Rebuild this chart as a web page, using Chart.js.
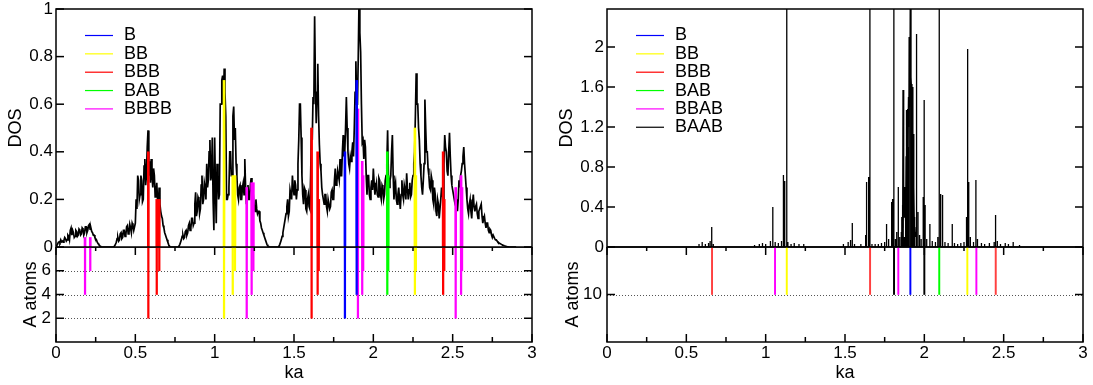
<!DOCTYPE html>
<html>
<head>
<meta charset="utf-8">
<script src="https://cdn.jsdelivr.net/npm/chart.js@4.4.0/dist/chart.umd.min.js"></script>
<style>
  html, body { margin: 0; padding: 0; background: #fff; overflow: hidden; width: 1093px; height: 385px; }
  canvas { position: absolute; }
</style>
</head>
<body>
<canvas id="dosL" width="545" height="260" style="left:0;top:0"></canvas>
<canvas id="dosR" width="545" height="260" style="left:551px;top:0"></canvas>
<canvas id="atomsL" width="545" height="138" style="left:0;top:247px"></canvas>
<canvas id="atomsR" width="545" height="138" style="left:551px;top:247px"></canvas>
<script>
// axis ticks
const kaTicks = [0, 0.5, 1, 1.5, 2, 2.5, 3];
const kaMinor = [0.25, 0.75, 1.25, 1.75, 2.25, 2.75];
const dosTicksL = [0, 0.2, 0.4, 0.6, 0.8, 1];
const dosTicksR = [0, 0.4, 0.8, 1.2, 1.6, 2];
const atomTicksL = [2, 4, 6];
const atomTicksR = [10];

// left panel: total DOS, sampled every 0.005 in ka from 0 (one row = 0.05)
const dosLeft = [
  0, 0.006, 0.012, 0.02, 0.022, 0.018, 0.03, 0.022, 0.025, 0.02,
  0.028, 0.04, 0.035, 0.025, 0.03, 0.05, 0.045, 0.03, 0.07, 0.08,
  0.05, 0.07, 0.06, 0.04, 0.045, 0.07, 0.065, 0.045, 0.05, 0.075,
  0.07, 0.05, 0.055, 0.08, 0.075, 0.05, 0.06, 0.085, 0.085, 0.06,
  0.07, 0.09, 0.095, 0.075, 0.08, 0.065, 0.06, 0.05, 0.05, 0.04,
  0.035, 0.03, 0.02, 0.015, 0.01, 0.006, 0.003, 0.001, 0, 0,
  0, 0, 0, 0, 0, 0, 0, 0, 0, 0,
  0, 0, 0, 0.002, 0.005, 0.012, 0.02, 0.035, 0.04, 0.025,
  0.03, 0.055, 0.06, 0.035, 0.04, 0.07, 0.07, 0.045, 0.05, 0.085,
  0.09, 0.055, 0.06, 0.095, 0.08, 0.06, 0.1, 0.09, 0.07, 0.085,
  0.1, 0.2, 0.16, 0.3, 0.28, 0.2, 0.22, 0.3, 0.28, 0.19,
  0.2, 0.34, 0.37, 0.26, 0.3, 0.42, 0.49, 0.3, 0.36, 0.27,
  0.37, 0.3, 0.25, 0.33, 0.3, 0.21, 0.22, 0.27, 0.2, 0.16,
  0.25, 0.18, 0.15, 0.13, 0.12, 0.09, 0.08, 0.06, 0.05, 0.04,
  0.03, 0.02, 0.01, 0.004, 0, 0, 0, 0, 0, 0,
  0, 0, 0, 0, 0, 0.004, 0.01, 0.02, 0.03, 0.045,
  0.05, 0.035, 0.04, 0.065, 0.07, 0.05, 0.06, 0.09, 0.1, 0.07,
  0.08, 0.12, 0.12, 0.09, 0.1, 0.18, 0.23, 0.13, 0.15, 0.21,
  0.2, 0.14, 0.16, 0.26, 0.3, 0.18, 0.2, 0.27, 0.25, 0.2,
  0.35, 0.25, 0.28, 0.4, 0.45, 0.28, 0.3, 0.46, 0.2, 0.07,
  0.46, 0.25, 0.1, 0.35, 0.3, 0.2, 0.22, 0.6, 0.6, 0.7,
  0.72, 0.6, 0.75, 0.65, 0.55, 0.2, 0.2, 0.22, 0.25, 0.4,
  0.4, 0.3, 0.3, 0.55, 0.59, 0.45, 0.5, 0.35, 0.3, 0.22,
  0.2, 0.25, 0.26, 0.2, 0.2, 0.25, 0.27, 0.22, 0.37, 0.25,
  0.18, 0.22, 0.26, 0.2, 0.2, 0.26, 0.29, 0.22, 0.25, 0.2,
  0.17, 0.15, 0.2, 0.16, 0.14, 0.15, 0.15, 0.11, 0.1, 0.08,
  0.07, 0.06, 0.05, 0.04, 0.03, 0.02, 0.01, 0.005, 0.002, 0,
  0, 0, 0, 0, 0, 0, 0, 0, 0, 0,
  0, 0.003, 0.01, 0.02, 0.03, 0.045, 0.06, 0.08, 0.1, 0.12,
  0.14, 0.17, 0.2, 0.13, 0.15, 0.24, 0.24, 0.2, 0.3, 0.25,
  0.22, 0.28, 0.26, 0.2, 0.24, 0.35, 0.45, 0.6, 0.6, 0.46,
  0.3, 0.22, 0.18, 0.25, 0.24, 0.16, 0.15, 0.2, 0.22, 0.17,
  0.16, 0.3, 0.5, 0.45, 0.63, 0.6, 0.97, 0.7, 0.52, 0.65,
  0.77, 0.55, 0.43, 0.35, 0.32, 0.25, 0.22, 0.2, 0.18, 0.22,
  0.22, 0.17, 0.15, 0.2, 0.2, 0.16, 0.17, 0.23, 0.24, 0.2,
  0.2, 0.28, 0.33, 0.26, 0.27, 0.32, 0.3, 0.28, 0.37, 0.3,
  0.3, 0.4, 0.47, 0.38, 0.4, 0.5, 0.63, 0.5, 0.4, 0.35,
  0.33, 0.38, 0.36, 0.4, 0.44, 0.38, 0.5, 0.65, 0.78, 0.6,
  0.6, 0.8, 1.05, 0.9, 0.82, 0.6, 0.44, 0.45, 0.37, 0.45,
  0.42, 0.3, 0.22, 0.3, 0.3, 0.22, 0.2, 0.25, 0.28, 0.24,
  0.33, 0.27, 0.22, 0.25, 0.27, 0.22, 0.21, 0.29, 0.28, 0.22,
  0.2, 0.26, 0.25, 0.2, 0.22, 0.28, 0.3, 0.35, 0.49, 0.3,
  0.25, 0.28, 0.3, 0.4, 0.47, 0.3, 0.2, 0.25, 0.27, 0.2,
  0.18, 0.22, 0.25, 0.2, 0.16, 0.22, 0.28, 0.22, 0.2, 0.26,
  0.24, 0.2, 0.31, 0.25, 0.2, 0.24, 0.27, 0.21, 0.22, 0.28,
  0.3, 0.35, 0.4, 0.55, 0.73, 0.6, 0.6, 0.5, 0.45, 0.35,
  0.3, 0.25, 0.22, 0.28, 0.35, 0.62, 0.5, 0.4, 0.4, 0.33,
  0.3, 0.25, 0.24, 0.3, 0.28, 0.2, 0.18, 0.25, 0.22, 0.15,
  0.13, 0.2, 0.18, 0.12, 0.12, 0.2, 0.25, 0.22, 0.2, 0.35,
  0.47, 0.42, 0.4, 0.32, 0.3, 0.4, 0.48, 0.38, 0.3, 0.26,
  0.24, 0.22, 0.2, 0.18, 0.17, 0.2, 0.15, 0.2, 0.28, 0.25,
  0.3, 0.32, 0.35, 0.38, 0.42, 0.35, 0.3, 0.25, 0.2, 0.16,
  0.14, 0.18, 0.2, 0.15, 0.12, 0.18, 0.22, 0.17, 0.15, 0.17,
  0.18, 0.14, 0.12, 0.15, 0.16, 0.17, 0.18, 0.13, 0.1, 0.12,
  0.13, 0.1, 0.08, 0.1, 0.1, 0.07, 0.06, 0.075, 0.07, 0.05,
  0.04, 0.05, 0.05, 0.035, 0.03, 0.03, 0.025, 0.02, 0.018, 0.016,
  0.014, 0.012, 0.01, 0.008, 0.007, 0.005, 0.004, 0.003, 0.002, 0.001,
  0.001, 0, 0, 0, 0, 0, 0, 0, 0, 0,
  0
];

// left panel: clusters, ka position, local DOS height, A atoms
const kaB_L = [1.821, 1.895];
const dosB_L = [0.4, 0.7];
const atomsB_L = [2, 4];
const kaBB_L = [1.059, 1.114, 1.128, 2.262, 2.268];
const dosBB_L = [0.7, 0.3, 0.3, 0.5, 0.3];
const atomsBB_L = [2, 4, 6, 4, 6];
const kaBBB_L = [0.582, 0.635, 0.651, 1.611, 1.649, 1.656, 2.44, 2.447];
const dosBBB_L = [0.4, 0.2, 0.2, 0.5, 0.4, 0.2, 0.4, 0.2];
const atomsBBB_L = [2, 4, 6, 2, 4, 6, 4, 6];
const kaBAB_L = [2.088, 2.094];
const dosBAB_L = [0.4, 0.3];
const atomsBAB_L = [4, 6];
const kaBBBB_L = [0.183, 0.216, 1.202, 1.233, 1.244, 1.903, 1.93, 1.936, 2.519, 2.553, 2.559];
const dosBBBB_L = [0.04, 0.04, 0.25, 0.27, 0.27, 0.58, 0.36, 0.3, 0.25, 0.3, 0.25];
const atomsBBBB_L = [4, 6, 2, 4, 6, 2, 4, 6, 2, 4, 6];

// right panel: total DOS spikes
const kaSpikesR = [0.58, 0.60, 0.62, 0.64, 0.65, 0.66, 0.67, 0.93, 0.96, 0.98, 1.00, 1.03, 1.045, 1.06, 1.08, 1.10,
  1.112, 1.12, 1.133, 1.14, 1.16, 1.18, 1.21, 1.24, 1.49, 1.52, 1.535, 1.546, 1.56, 1.60, 1.63, 1.636, 1.649, 1.657,
  1.67, 1.69, 1.71, 1.73, 1.75, 1.762, 1.775, 1.794, 1.80, 1.808, 1.818, 1.826, 1.836, 1.845, 1.855, 1.863, 1.867,
  1.875, 1.882, 1.888, 1.895, 1.90, 1.905, 1.914, 1.92, 1.926, 1.932, 1.94, 1.951, 1.96, 1.97, 1.98, 1.993, 1.999,
  2.005, 2.015, 2.035, 2.05, 2.07, 2.085, 2.094, 2.103, 2.115, 2.13, 2.15, 2.176, 2.19, 2.21, 2.23, 2.25, 2.266,
  2.273, 2.28, 2.29, 2.31, 2.325, 2.335, 2.36, 2.38, 2.41, 2.44, 2.449, 2.46, 2.48, 2.51, 2.53, 2.56, 2.60];
const dosSpikesR = [0.03, 0.05, 0.03, 0.04, 0.06, 0.2, 0.03, 0.02, 0.03, 0.04, 0.03, 0.06, 0.4, 0.05, 0.04, 0.06,
  0.72, 0.66, 3, 0.05, 0.03, 0.04, 0.03, 0.03, 0.03, 0.05, 0.07, 0.24, 0.03, 0.03, 0.12, 0.65, 0.7, 3,
  0.03, 0.03, 0.03, 0.04, 0.05, 0.23, 0.08, 0.45, 0.48, 3, 0.08, 0.15, 0.6, 0.1, 0.15, 0.42, 1.57,
  0.1, 0.25, 1.37, 1.38, 1.0, 2.1, 3, 1.63, 1.6, 1.13, 0.2, 2.13, 0.35, 0.12, 0.08, 0.5, 1.47,
  0.42, 0.08, 0.23, 0.06, 0.05, 0.1, 3, 0.53, 0.52, 0.05, 0.04, 0.23, 0.04, 0.03, 0.04, 0.05, 0.3,
  1.98, 0.65, 0.1, 0.05, 0.67, 0.08, 0.04, 0.03, 0.04, 0.05, 0.32, 0.06, 0.03, 0.04, 0.03, 0.05, 0.02];
// dense band around ka 1.9
const kaBandR = [1.855, 1.858, 1.861, 1.864, 1.867, 1.870, 1.873, 1.876, 1.879, 1.882, 1.885, 1.888, 1.891, 1.894,
  1.897, 1.900, 1.903, 1.906, 1.909, 1.912, 1.915, 1.918, 1.921, 1.924, 1.927, 1.930, 1.933, 1.936, 1.939, 1.942, 1.945];
const dosBandR = [0.1, 0.3, 0.2, 0.42, 1.57, 0.5, 0.3, 0.6, 0.4, 0.25, 0.9, 1.37, 1.1, 1.38,
  0.9, 1.5, 1.2, 2.1, 1.4, 3, 1.7, 1.63, 1.2, 1.6, 1.0, 1.13, 0.6, 0.3, 0.2, 0.15, 0.1];

// right panel: clusters, ka position (all at 10 A atoms)
const kaB_R = [1.912];
const kaBB_R = [1.133, 2.271];
const kaBBB_R = [0.662, 1.658, 2.45];
const kaBAB_R = [2.094];
const kaBBAB_R = [1.059, 1.836, 2.328];
const kaBAAB_R = [1.809, 2.0];
const atomsR = 10;

const legendL = [
  { label: "B", color: "#0000ff" },
  { label: "BB", color: "#ffff00" },
  { label: "BBB", color: "#ff0000" },
  { label: "BAB", color: "#00ff00" },
  { label: "BBBB", color: "#ff00ff" },
];
const legendR = [
  { label: "B", color: "#0000ff" },
  { label: "BB", color: "#ffff00" },
  { label: "BBB", color: "#ff0000" },
  { label: "BAB", color: "#00ff00" },
  { label: "BBAB", color: "#ff00ff" },
  { label: "BAAB", color: "#000000" },
];

const FONT = "'Liberation Sans', Arial, sans-serif";
const tickFont = { family: FONT, size: 17, lineHeight: 1 };
const titleFont = { family: FONT, size: 18 };

// inward ticks, frame, dotted guides and the legend
const axesFrame = {
  id: "axesFrame",
  beforeDatasetsDraw(chart, args, o) {
    if (!o.dots) return;
    const { ctx, chartArea: a } = chart;
    ctx.save();
    ctx.strokeStyle = "#555";
    ctx.lineWidth = 1;
    ctx.setLineDash([1, 2]);
    o.dots.forEach((v) => {
      const py = Math.round(chart.scales.y.getPixelForValue(v)) + 0.5;
      ctx.beginPath();
      ctx.moveTo(a.left, py);
      ctx.lineTo(a.right, py);
      ctx.stroke();
    });
    ctx.restore();
  },
  afterDatasetsDraw(chart, args, o) {
    const { ctx, chartArea: a, scales } = chart;
    const seg = (x1, y1, x2, y2) => {
      ctx.beginPath();
      ctx.moveTo(x1, y1);
      ctx.lineTo(x2, y2);
      ctx.stroke();
    };
    ctx.save();
    ctx.strokeStyle = "#000";
    ctx.lineWidth = 1.5;
    ctx.strokeRect(a.left, a.top, a.right - a.left, a.bottom - a.top);
    (o.yTicks || []).forEach((v) => {
      const py = scales.y.getPixelForValue(v);
      seg(a.left, py, a.left + 8, py);
      seg(a.right - 8, py, a.right, py);
    });
    if (o.xTicks) {
      kaTicks.forEach((v) => {
        const px = scales.x.getPixelForValue(v);
        seg(px, a.top, px, a.top + 8);
        seg(px, a.bottom - 8, px, a.bottom);
      });
      kaMinor.forEach((v) => {
        const px = scales.x.getPixelForValue(v);
        seg(px, a.top, px, a.top + 4);
        seg(px, a.bottom - 5, px, a.bottom);
      });
    }
    if (o.legend) {
      ctx.font = "18px " + FONT;
      ctx.textBaseline = "middle";
      ctx.fillStyle = "#000";
      ctx.lineWidth = 1.2;
      o.legend.forEach((item, i) => {
        const y = 35.5 + i * 18.35;
        ctx.strokeStyle = item.color;
        seg(85, y, 113, y);
        ctx.fillText(item.label, 124, y);
      });
    }
    ctx.restore();
  },
};

function yScale(max, ticks, title, titlePad, labelPad) {
  return {
    min: 0,
    max: max,
    grid: { display: false, drawTicks: false },
    border: { display: false },
    afterBuildTicks: (s) => { s.ticks = ticks.map((v) => ({ value: v })); },
    afterFit: (s) => { s.width = 56; s.paddingTop = 0; s.paddingBottom = 0; },
    ticks: { padding: labelPad, color: "#000", font: tickFont, callback: (v) => String(v) },
    title: { display: true, text: title, color: "#000", font: titleFont, padding: { top: titlePad, bottom: 0 } },
  };
}

function upperChart(id, datasets, yMax, yTicks, legend) {
  return new Chart(document.getElementById(id), {
    type: "line",
    data: { datasets },
    options: {
      responsive: false,
      animation: false,
      layout: { padding: { left: 0, top: 9, right: 13, bottom: 13 } },
      plugins: { legend: { display: false }, tooltip: { enabled: false }, axesFrame: { yTicks: yTicks, legend: legend } },
      scales: {
        x: { type: "linear", min: 0, max: 3, offset: false, display: false },
        y: yScale(yMax, yTicks, "DOS", 5, 3),
      },
    },
    plugins: [axesFrame],
  });
}

function lowerChart(id, datasets, yMax, yTicks, titlePad) {
  return new Chart(document.getElementById(id), {
    type: "bar",
    data: { datasets },
    options: {
      responsive: false,
      animation: false,
      layout: { padding: { left: 0, top: 0, right: 13, bottom: 0 } },
      plugins: { legend: { display: false }, tooltip: { enabled: false }, axesFrame: { yTicks: yTicks, dots: yTicks, xTicks: true } },
      scales: {
        x: {
          type: "linear", min: 0, max: 3, offset: false,
          grid: { display: false, drawTicks: false }, border: { display: false },
          afterBuildTicks: (s) => { s.ticks = kaTicks.map((v) => ({ value: v })); },
          afterFit: (s) => { s.height = 43; s.paddingLeft = 0; s.paddingRight = 0; },
          ticks: { padding: 3, color: "#000", font: tickFont, maxRotation: 0, autoSkip: false, callback: (v) => String(v) },
          title: { display: true, text: "ka", color: "#000", font: titleFont, padding: { top: 0, bottom: 1 } },
        },
        y: yScale(yMax, yTicks, "A atoms", titlePad, 5),
      },
    },
    plugins: [axesFrame],
  });
}

function lines(ka, from, to, color, width) {
  return {
    type: "bar",
    grouped: false,
    barThickness: width,
    borderWidth: 0,
    backgroundColor: color,
    data: ka.map((k, i) => ({ x: k, y: [Array.isArray(from) ? from[i] : from, Array.isArray(to) ? to[i] : to] })),
  };
}

// left DOS
upperChart("dosL", [
  {
    type: "line", order: 1, borderColor: "#000", borderWidth: 1.7, pointRadius: 0, tension: 0,
    data: dosLeft.map((v, i) => ({ x: i / 200, y: v })),
  },
  lines(kaB_L, 0, dosB_L, "#0000ff", 2),
  lines(kaBB_L, 0, dosBB_L, "#ffff00", 2),
  lines(kaBBB_L, 0, dosBBB_L, "#ff0000", 2),
  lines(kaBAB_L, 0, dosBAB_L, "#00ff00", 2),
  lines(kaBBBB_L, 0, dosBBBB_L, "#ff00ff", 2),
], 1, dosTicksL, legendL);

// right DOS
const spikePoints = [{ x: 0, y: 0 }];
kaSpikesR.forEach((k, i) => {
  spikePoints.push({ x: k, y: 0 }, { x: k, y: dosSpikesR[i] }, { x: k, y: 0 });
});
spikePoints.push({ x: 3, y: 0 });
upperChart("dosR", [
  { type: "line", borderColor: "#000", borderWidth: 1.3, pointRadius: 0, tension: 0, data: spikePoints },
  { type: "line", borderColor: "#000", borderWidth: 1.3, pointRadius: 0, tension: 0,
    data: kaBandR.map((k, i) => ({ x: k, y: dosBandR[i] })) },
], 2.38, dosTicksR, legendR);

// left A atoms
lowerChart("atomsL", [
  lines(kaB_L, atomsB_L, 8, "#0000ff", 1.6),
  lines(kaBB_L, atomsBB_L, 8, "#ffff00", 1.6),
  lines(kaBBB_L, atomsBBB_L, 8, "#ff0000", 1.6),
  lines(kaBAB_L, atomsBAB_L, 8, "#00ff00", 1.6),
  lines(kaBBBB_L, atomsBBBB_L, 8, "#ff00ff", 1.6),
], 8, atomTicksL, 20);

// right A atoms
lowerChart("atomsR", [
  lines(kaB_R, atomsR, 20, "#0000ff", 1.3),
  lines(kaBB_R, atomsR, 20, "#ffff00", 1.3),
  lines(kaBBB_R, atomsR, 20, "#ff4040", 1.3),
  lines(kaBAB_R, atomsR, 20, "#00ff00", 1.3),
  lines(kaBBAB_R, atomsR, 20, "#ff00ff", 1.3),
  lines(kaBAAB_R, atomsR, 20, "#000000", 1.3),
], 20, atomTicksR, 11);
</script>
</body>
</html>
